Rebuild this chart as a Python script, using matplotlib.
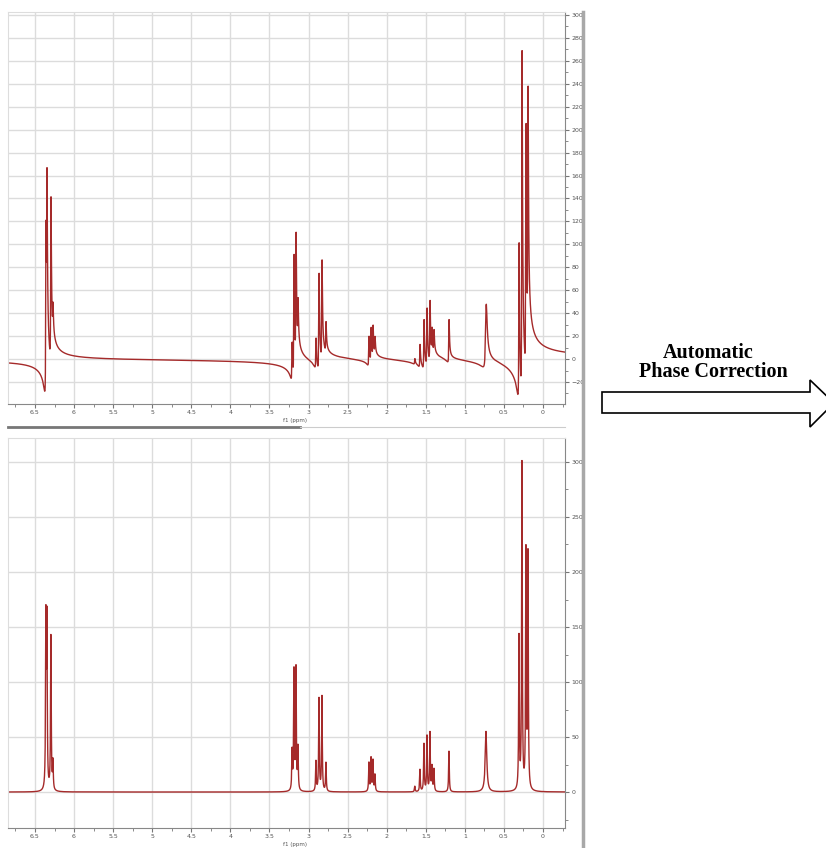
import numpy as np
import matplotlib.pyplot as plt
from matplotlib.patches import Polygon
from matplotlib.lines import Line2D
from matplotlib.ticker import MultipleLocator, FuncFormatter

W, H = 826, 848

# peak list (ppm, height)
shift_ppm = [6.360, 6.347, 6.296, 6.270,
             3.210, 3.186, 3.160, 3.135,
             2.905, 2.866, 2.828, 2.777,
             2.227, 2.200, 2.175, 2.150,
             1.640,
             1.574, 1.523, 1.484, 1.446, 1.420, 1.395,
             1.203, 0.729,
             0.307, 0.269, 0.218, 0.192]
height = [150, 148, 140, 25,
          35, 108, 110, 38,
          27, 84, 86, 26,
          26, 30, 28, 15,
          5,
          20, 43, 50, 53, 22, 20,
          37, 55,
          138, 296, 214, 212]
width_ppm = [0.005] * 24 + [0.012] + [0.005] * 4

phase_error = 33  # degrees, raw spectrum before correction
line_color = '#a52a2a'


def spectrum(ppm, phase_deg):
    ph = np.deg2rad(phase_deg)
    y = np.zeros_like(ppm)
    for d0, h, w in zip(shift_ppm, height, width_ppm):
        dx = ppm - d0
        absorp = w**2 / (dx**2 + w**2)
        disp = -w * dx / (dx**2 + w**2)
        y += h * (np.cos(ph) * absorp + np.sin(ph) * disp)
    return y


def px_axes(left, top, right, bottom):
    return [left / W, 1 - bottom / H, (right - left) / W, (bottom - top) / H]


def style(ax, ymajor, yminor, ylim):
    ax.set_xlim(6.845, -0.2815)
    ax.set_ylim(*ylim)
    ax.xaxis.set_major_locator(MultipleLocator(0.5))
    ax.xaxis.set_minor_locator(MultipleLocator(0.25))
    ax.xaxis.set_major_formatter(FuncFormatter(lambda v, p: '%g' % v))
    ax.yaxis.set_major_locator(MultipleLocator(ymajor))
    ax.yaxis.set_minor_locator(MultipleLocator(yminor))
    ax.yaxis.tick_right()
    ax.grid(True, which='major', color='#dcdcdc', lw=1.0)
    ax.set_axisbelow(True)
    ax.tick_params(which='both', direction='out', colors='#777777',
                   labelsize=4.5, labelcolor='#555555', pad=1.5)
    ax.tick_params(which='major', length=3)
    ax.tick_params(which='minor', length=1.8)
    for s in ['left', 'top']:
        ax.spines[s].set_color('#dddddd')
    for s in ['right', 'bottom']:
        ax.spines[s].set_color('#888888')
    ax.text(3.33, -0.035, 'f1 (ppm)', transform=ax.get_xaxis_transform(),
            fontsize=4, color='#555555', va='top', ha='left')


ppm = np.linspace(-0.2815, 6.845, 90000)

fig = plt.figure(figsize=(W / 100, H / 100), dpi=100)

ax1 = fig.add_axes(px_axes(8, 12, 565, 404))
ax1.plot(ppm, spectrum(ppm, phase_error), color=line_color, lw=1.0)
style(ax1, 20, 10, (-39.2, 302.6))

ax2 = fig.add_axes(px_axes(8, 438, 565, 828))
ax2.plot(ppm, spectrum(ppm, 0), color=line_color, lw=1.0)
style(ax2, 50, 25, (-32.7, 321.8))

# window frame bits
fig.add_artist(Line2D([583 / W, 583 / W], [0, 1 - 12 / H], color='#a8a8a8', lw=2.5))
fig.add_artist(Line2D([8 / W, 300 / W], [1 - 427 / H] * 2, color='#777777', lw=2))
fig.add_artist(Line2D([300 / W, 565 / W], [1 - 427 / H] * 2, color='#cccccc', lw=0.8))

# hollow arrow
pts = [(602, 392), (810, 392), (810, 380), (834, 403), (810, 427), (810, 413), (602, 413)]
arrow = Polygon([(x / W, 1 - y / H) for x, y in pts], closed=True,
                transform=fig.transFigure, facecolor='white', edgecolor='black', lw=1.2)
fig.add_artist(arrow)

fig.text(708 / W, 1 - 353 / H, 'Automatic', ha='center', va='center',
         family='Liberation Serif', weight='bold', fontsize=14.5)
fig.text(713 / W, 1 - 372 / H, 'Phase Correction', ha='center', va='center',
         family='Liberation Serif', weight='bold', fontsize=14.5)

fig.savefig('out.png', dpi=100)
